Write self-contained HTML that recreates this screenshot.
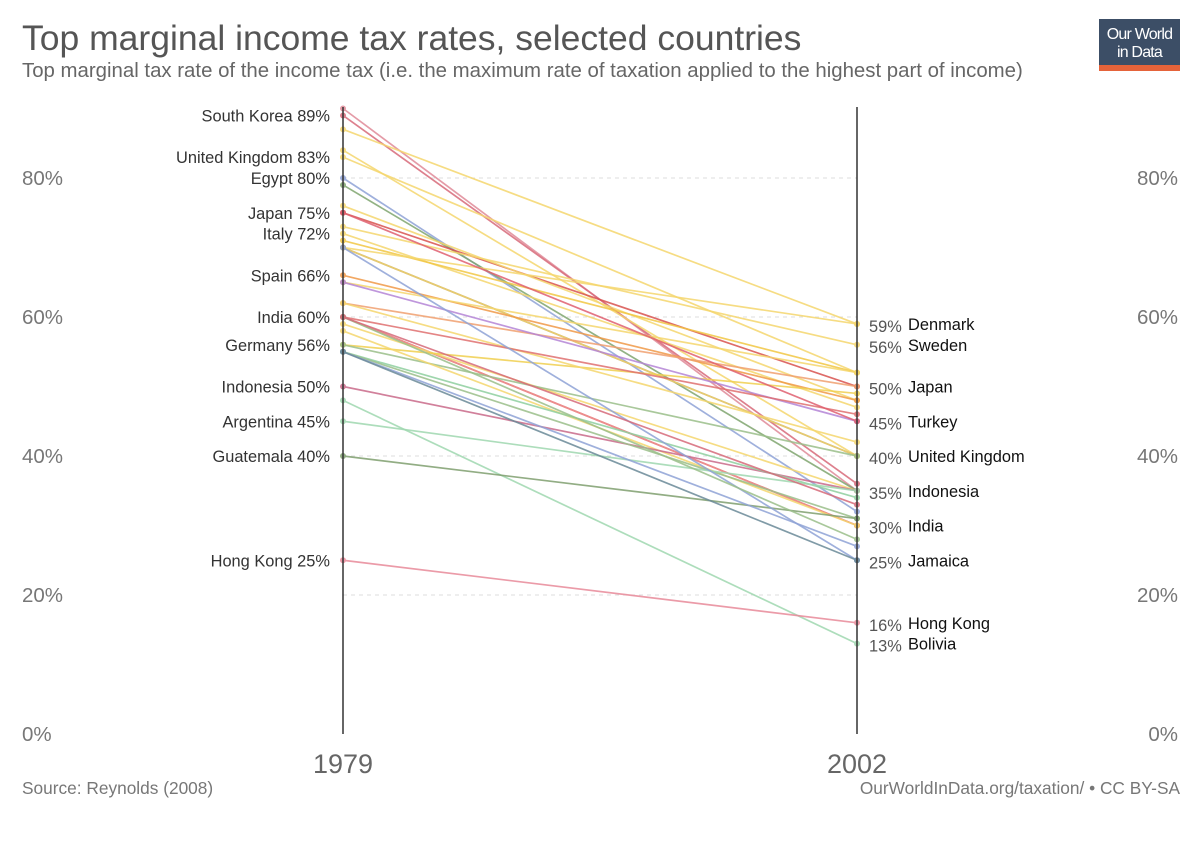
<!DOCTYPE html>
<html><head><meta charset="utf-8"><style>
body{margin:0;background:#fff;font-family:"Liberation Sans",sans-serif;}
svg text{font-family:"Liberation Sans",sans-serif;}
</style></head><body>
<svg id="c" width="1200" height="847" viewBox="0 0 1200 847">
<text x="22" y="50" font-size="35.5" fill="#555">Top marginal income tax rates, selected countries</text>
<text x="22" y="77" font-size="20.4" fill="#666">Top marginal tax rate of the income tax (i.e. the maximum rate of taxation applied to the highest part of income)</text>
<g>
<rect x="1099" y="19" width="81" height="52" fill="#3c4e66"/>
<rect x="1099" y="65" width="81" height="6" fill="#e5633a"/>
<text x="1139.5" y="39" font-size="16" fill="#fff" text-anchor="middle" letter-spacing="-0.8">Our World</text>
<text x="1139.5" y="57" font-size="16" fill="#fff" text-anchor="middle" letter-spacing="-0.8">in Data</text>
</g>
<text x="22" y="794" font-size="17.3" fill="#777">Source: Reynolds (2008)</text>
<text x="1180" y="794" font-size="17.3" fill="#777" text-anchor="end">OurWorldInData.org/taxation/ • CC BY-SA</text>
<g id="grid"></g><g id="lines"></g><g id="axes"></g><g id="labels"></g>
</svg>
<script>
const countries=["South Korea","Korea2","Chile","United Kingdom","UK2","Egypt","Pakistan","Japan","Philippines","Italy","Italy2","Thailand","Mexico","Spain","Spain2","Portugal","India","India2","India3","Bangladesh","Germany","Greece","Colombia","Indonesia","Sri Lanka","Kenya","Argentina","Bolivia","Guatemala","Hong Kong","Denmark","Sweden","Zimbabwe","Ireland","Ireland2","Turkey","Nigeria","Malaysia","Brazil","Peru","Jamaica"];
const v1979=[90,89,87,84,83,80,79,75,76,72,71,70,70,66,65,62,60,60,60,59,56,56,58,50,55,55,45,48,40,25,70,73,65,62,60,75,70,60,55,60,55];
const v2002=[35,36,59,40,52,32,35,50,48,47,52,40,40,48,52,50,30,30,30,35,49,40,30,35,34,31,35,13,31,16,59,56,45,42,46,45,25,28,27,33,25];
const colors=["#e08a98","#d86a7a","#f5d76e","#f5d76e","#f5d76e","#8fa3d6","#7fa56f","#d9534f","#f5d76e","#f5d76e","#f2c744","#8b7362","#f5d76e","#f09a48","#f5d76e","#f0a070","#e27070","#e88080","#ee9090","#f5d76e","#f0d050","#9bbf8a","#f5d76e","#c96a8a","#8fcf9f","#9bbf8a","#9fd8b0","#9fd8b0","#7f9f6f","#e88a9a","#f5d76e","#f5d76e","#b585d6","#f5d76e","#e07070","#e06070","#8fa3d6","#9bbf8a","#8fa3d6","#d66a7a","#6b8a98"];
const yTicks=[0,20,40,60,80];
const leftLabels=[["South Korea",89],["United Kingdom",83],["Egypt",80],["Japan",75],["Italy",72],["Spain",66],["India",60],["Germany",56],["Indonesia",50],["Argentina",45],["Guatemala",40],["Hong Kong",25]];
const rightLabels=[["Denmark",59],["Sweden",56],["Japan",50],["Turkey",45],["United Kingdom",40],["Indonesia",35],["India",30],["Jamaica",25],["Hong Kong",16],["Bolivia",13]];
const X1=343,X2=857;
const y=v=>734-v*6.95;
const NS="http://www.w3.org/2000/svg";
function mk(t,a,p){const e=document.createElementNS(NS,t);for(const k in a)e.setAttribute(k,a[k]);p.appendChild(e);return e;}
const G=document.getElementById('grid'),L=document.getElementById('lines'),A=document.getElementById('axes'),T=document.getElementById('labels');
yTicks.forEach(t=>{
 if(t>0){const g=mk('line',{x1:X1,x2:X2,y1:y(t),y2:y(t),stroke:'#ddd','stroke-dasharray':'4,4'},G);
 
 }
 const a=mk('text',{x:22,y:y(t)+7,'font-size':20.5,fill:'#777'},A);a.textContent=t+'%';
 
 
 const b=mk('text',{x:1178,y:y(t)+7,'font-size':20.5,fill:'#777','text-anchor':'end'},A);b.textContent=t+'%';
 
 
});
countries.forEach((c,i)=>{
 const g=mk('g',{opacity:0.85},L);
 
 
 mk('line',{x1:X1,y1:y(v1979[i]),x2:X2,y2:y(v2002[i]),stroke:colors[i],'stroke-width':1.7},g);
 mk('circle',{cx:X1,cy:y(v1979[i]),r:3,fill:colors[i]},g);
 mk('circle',{cx:X2,cy:y(v2002[i]),r:3,fill:colors[i]},g);
});
[X1,X2].forEach(x=>{const l=mk('line',{x1:x,x2:x,y1:107,y2:734,stroke:'#333','stroke-width':1.5},A);
 
 });
[["1979",X1],["2002",X2]].forEach(([s,x])=>{const t=mk('text',{x:x,y:773,'font-size':27,fill:'#666','text-anchor':'middle'},A);t.textContent=s;
 
 });
leftLabels.forEach(([n,v])=>{const t=mk('text',{x:330,y:y(v)+6,'font-size':16.4,fill:'#333','text-anchor':'end'},T);t.textContent=n+' '+v+'%';
 
 });
rightLabels.forEach(([n,v])=>{const t=mk('text',{x:869,y:y(v)+8,'font-size':16.4,fill:'#555'},T);t.textContent=v+'%';
 
 
 const u=mk('text',{x:908,y:y(v)+6,'font-size':16.4,fill:'#111'},T);u.textContent=n;
 
 });
</script>
</body></html>
